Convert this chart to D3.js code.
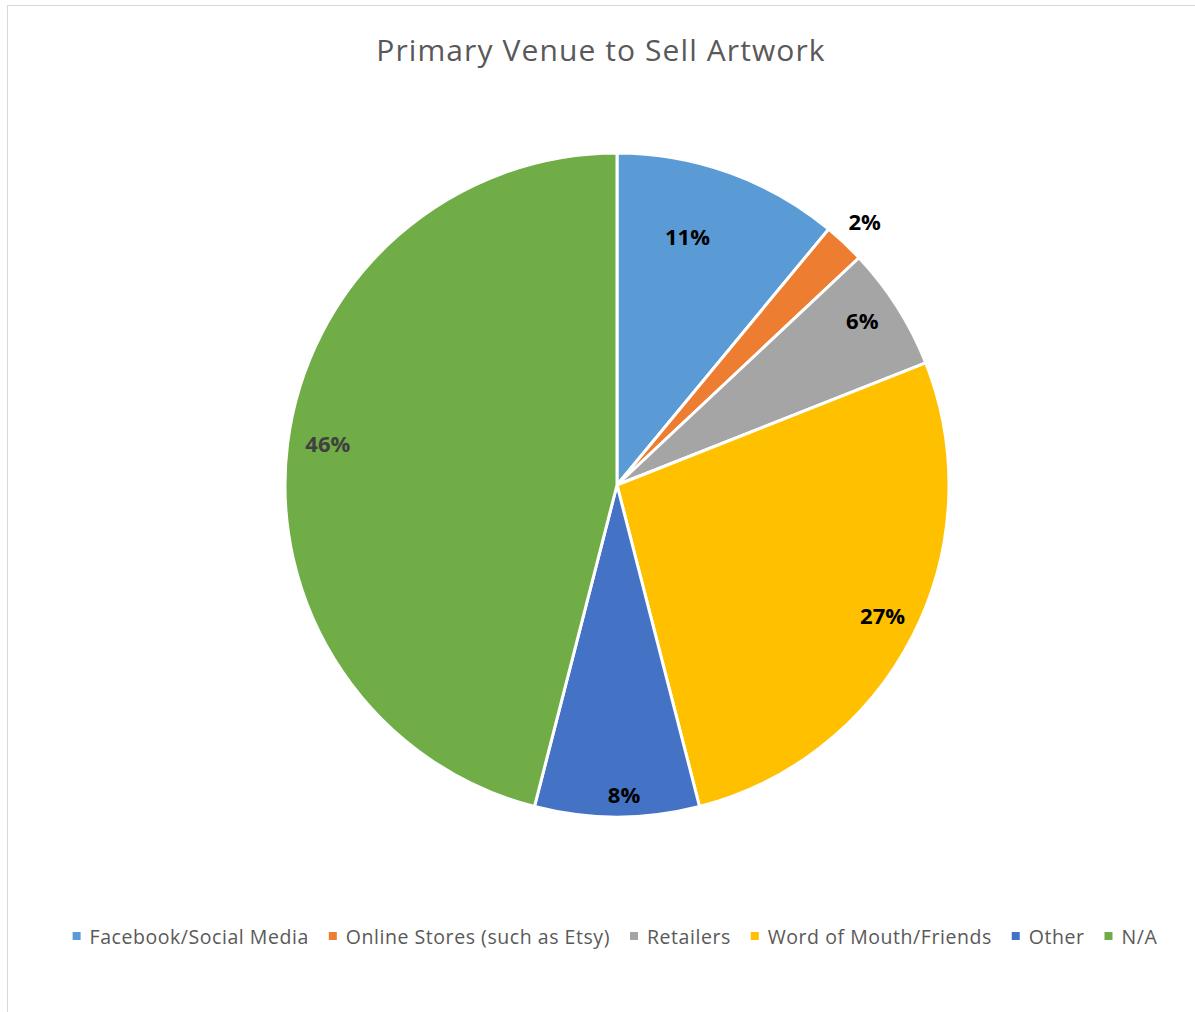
<!DOCTYPE html>
<html>
<head>
<meta charset="utf-8">
<script src="https://cdn.jsdelivr.net/npm/d3@7"></script>
<style>
  html, body { margin: 0; padding: 0; background: #fff; }
  svg { display: block; font-family: "Open Sans", "Noto Sans", sans-serif; }
</style>
</head>
<body>
<svg id="chart" width="1195" height="1012"></svg>
<script>
// Survey answers: primary venue used to sell artwork (percent of respondents)
const categories = ["Facebook/Social Media", "Online Stores (such as Etsy)", "Retailers",
                    "Word of Mouth/Friends", "Other", "N/A"];
const percentages = [11, 2, 6, 27, 8, 46];
const colors = ["#5B9BD5", "#ED7D31", "#A5A5A5", "#FFC000", "#4472C4", "#70AD47"];
const title = "Primary Venue to Sell Artwork";

const W = 1195, H = 1012;
const cx = 617, cy = 485, R = 332;

const svg = d3.select("#chart");

// chart area frame (runs off the right and bottom edges)
svg.append("rect")
  .attr("x", 7.5).attr("y", 5.5)
  .attr("width", W + 10).attr("height", H + 10)
  .attr("fill", "#fff").attr("stroke", "#d9d9d9").attr("stroke-width", 1);

svg.append("text")
  .attr("x", 601).attr("y", 61)
  .attr("text-anchor", "middle")
  .attr("font-size", 30)
  .attr("letter-spacing", 1.1)
  .attr("fill", "#595959")
  .text(title);

const data = categories.map((c, i) => ({ name: c, value: percentages[i], color: colors[i] }));

const pie = d3.pie().value(d => d.value).sort(null);
const arcs = pie(data);
const arc = d3.arc().innerRadius(0).outerRadius(R);

const g = svg.append("g").attr("transform", `translate(${cx},${cy})`);

g.selectAll("path.slice")
  .data(arcs)
  .join("path")
  .attr("class", "slice")
  .attr("d", arc)
  .attr("fill", d => d.data.color)
  .attr("stroke", "#fff")
  .attr("stroke-width", 3)
  .attr("stroke-linejoin", "round");

// label placement: radius as a fraction of R, optional angle nudge (degrees)
const placement = {
  "Facebook/Social Media": { r: 0.78, da: -4 },
  "Online Stores (such as Etsy)": { r: 1.09, da: 0 },
  "Retailers": { r: 0.89, da: -1.5 },
  "Word of Mouth/Friends": { r: 0.89, da: -1 },
  "Other": { r: 0.93, da: -1.3 },
  "N/A": { r: 0.88, da: 1 }
};
g.selectAll("text.lbl")
  .data(arcs)
  .join("text")
  .attr("class", "lbl")
  .each(function (d) {
    const p = placement[d.data.name] || { r: 0.89, da: 0 };
    const a = (d.startAngle + d.endAngle) / 2 + p.da * Math.PI / 180;
    const rr = p.r * R;
    d3.select(this)
      .attr("x", rr * Math.sin(a))
      .attr("y", -rr * Math.cos(a));
  })
  .attr("text-anchor", "middle")
  .attr("dominant-baseline", "central")
  .attr("font-size", 22)
  .attr("font-weight", "bold")
  .attr("fill", d => d.data.name === "N/A" ? "#404040" : "#000")
  .text(d => d.data.value + "%");

// legend, centred under the pie
const legend = svg.append("g").attr("class", "legend");
const items = legend.selectAll("g.item")
  .data(data)
  .join("g")
  .attr("class", "item");
items.append("rect")
  .attr("y", 0.5)
  .attr("width", 8).attr("height", 8)
  .attr("fill", d => d.color);
items.append("text")
  .attr("x", 17).attr("y", 4.5)
  .attr("dominant-baseline", "central")
  .attr("font-size", 19.5)
  .attr("letter-spacing", 0.55)
  .attr("fill", "#595959")
  .text(d => d.name);

const gap = 20;
let widths = [];
items.each(function () { widths.push(this.getBBox().width); });
const total = d3.sum(widths) + gap * (widths.length - 1);
let x = 615 - total / 2;
items.attr("transform", (d, i) => {
  const t = `translate(${x},${931.5})`;
  x += widths[i] + gap;
  return t;
});
</script>
</body>
</html>
